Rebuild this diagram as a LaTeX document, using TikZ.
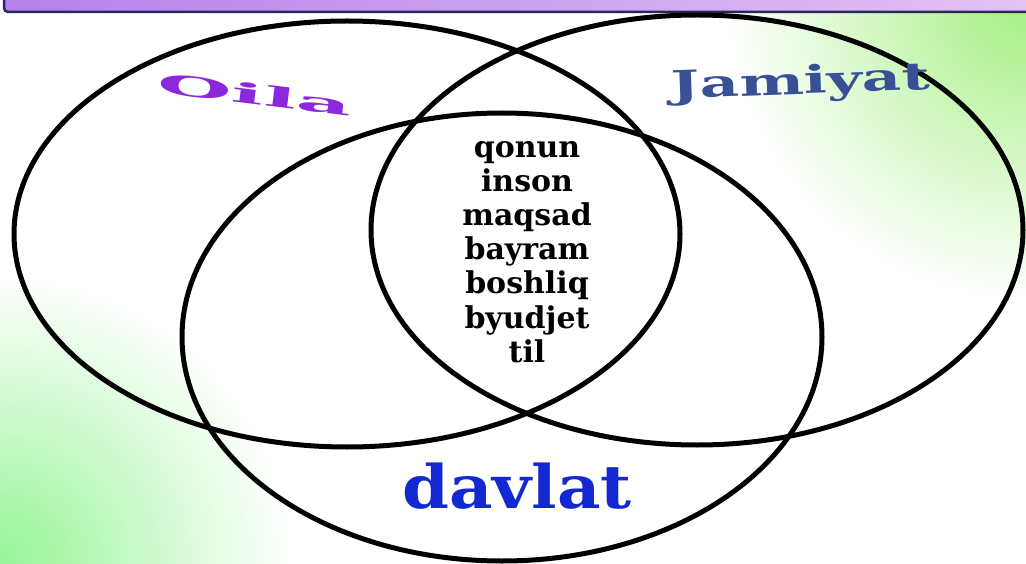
\documentclass[tikz,border=0pt]{standalone}
\usepackage{fontspec}
\usepackage{xcolor}
\usepackage{tikz}
\newfontfamily\vennfont{DejaVu Serif}
\definecolor{barleft}{RGB}{180,130,235}
\definecolor{barright}{RGB}{228,195,245}
\definecolor{barline}{RGB}{40,40,90}
\definecolor{greenTR}{RGB}{165,240,130}
\definecolor{greenBL}{RGB}{150,245,150}
\definecolor{oilacol}{RGB}{140,40,220}
\definecolor{jamcol}{RGB}{55,80,150}
\definecolor{davcol}{RGB}{20,40,210}

\begin{document}
\begin{tikzpicture}[x=1pt, y=-1pt,
    ring/.style={line width=5pt, black},
    word/.style={font=\vennfont\bfseries\fontsize{30}{30}\selectfont, inner sep=0pt}]
  \useasboundingbox (0,0) rectangle (1026,564);
  \fill[white] (0,0) rectangle (1026,564);
  \begin{scope}
    \clip (0,0) rectangle (1026,564);
    \shade[inner color=greenTR, outer color=white] (1026,0) circle (300);
    \shade[inner color=greenBL, outer color=white] (0,564) circle (290);
  \end{scope}
  % title bar
  \draw[line width=2.5pt, draw=barline, left color=barleft, right color=barright,
    rounded corners=4pt] (4,-30) rectangle (1040,12);

  % three sets
  \draw[ring] (347,234) ellipse [x radius=333, y radius=213];
  \draw[ring] (697,230) ellipse [x radius=326, y radius=215];
  \draw[ring] (502,337) ellipse [x radius=320, y radius=224];

  % set names
  \node[word, text=oilacol, rotate=-7, xscale=2.15, yscale=0.68,
    font=\vennfont\bfseries\fontsize{40}{40}\selectfont] (oila) at (255,94) {Oila};
  \node[word, text=jamcol, rotate=2, xscale=1.6,
    font=\vennfont\bfseries\fontsize{38}{38}\selectfont, anchor=base] (jamiyat) at (801,94) {Jamiyat};
  \node[word, text=davcol, xscale=1.12,
    font=\vennfont\bfseries\fontsize{60}{60}\selectfont, anchor=base] (davlat) at (517,508) {davlat};

  % common words
  \foreach \w [count=\i] in {qonun,inson,maqsad,bayram,boshliq,byudjet,til}
    \node[word, anchor=base] (w\i) at (527,124+34*\i) {\w};
\end{tikzpicture}
\end{document}
